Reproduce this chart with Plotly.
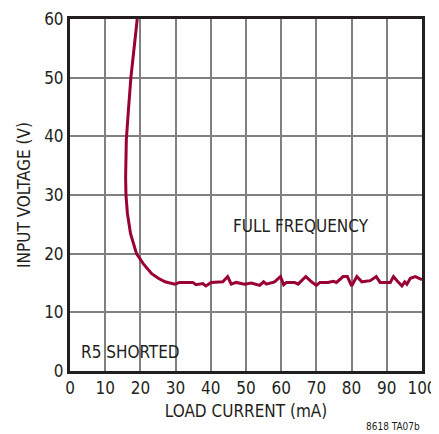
import plotly.graph_objects as go

# load current (mA) and input voltage (V)
load_current = [19.1, 18.2, 17.3, 16.6, 16.0, 15.8, 15.9, 16.3, 17.2, 18.9, 20.8, 23.2, 25.1,
                27.0, 29.8, 31.1, 34.9, 35.8, 37.7, 38.6, 40.1, 43.4, 44.8, 45.8,
                47.2, 49.6, 51.5, 53.9, 55.0, 55.8, 58.1, 59.8, 60.7, 61.5, 63.8, 64.8,
                67.0, 68.6, 70.0, 71.0, 73.3, 74.8, 75.7, 77.6, 78.8, 80.0, 81.5, 82.9,
                85.3, 87.0, 88.1, 91.0, 91.9, 92.9, 94.3, 95.1, 95.7, 96.7, 98.1, 99.5, 100.0]
input_voltage = [60.0, 54.7, 50.0, 44.5, 39.4, 33.0, 30.0, 26.9, 23.4, 20.0, 18.3, 16.6, 15.8,
                 15.2, 14.8, 15.1, 15.1, 14.7, 14.9, 14.5, 15.1, 15.2, 16.1, 14.8,
                 15.1, 14.8, 15.0, 14.6, 15.2, 14.8, 15.2, 16.1, 14.7, 15.1, 15.1, 14.8,
                 16.1, 15.2, 14.6, 15.1, 15.1, 15.3, 15.1, 16.1, 16.1, 14.5, 16.1, 15.2,
                 15.4, 16.1, 15.1, 15.1, 16.1, 15.4, 14.5, 15.2, 14.8, 15.8, 16.1, 15.7, 15.6]

FONT = "DejaVu Sans Condensed, Liberation Sans Narrow, sans-serif"
INK = "#231f20"

fig = go.Figure()
fig.add_trace(go.Scatter(x=load_current, y=input_voltage, mode="lines",
                         line=dict(color="#990033", width=3), showlegend=False))

axis_style = dict(showgrid=True, gridcolor="#808080", gridwidth=1.5, zeroline=False,
                  showline=True, linecolor=INK, linewidth=3, mirror=True, automargin=False,
                  ticks="", tickfont=dict(size=17, color=INK, family=FONT))
fig.update_xaxes(range=[0, 100], dtick=10, **axis_style,
                 title=dict(text="LOAD CURRENT (mA)", font=dict(size=17, color=INK, family=FONT),
                            standoff=8))
fig.update_yaxes(range=[0, 60], dtick=10, **axis_style,
                 title=dict(text="INPUT VOLTAGE (V)", font=dict(size=17, color=INK, family=FONT),
                            standoff=10))

fig.add_annotation(x=45.7, y=24.7, text="FULL FREQUENCY", showarrow=False, xanchor="left",
                   font=dict(size=17, color=INK, family=FONT))
fig.add_annotation(x=2.6, y=3.2, text="R5 SHORTED", showarrow=False, xanchor="left",
                   font=dict(size=17, color=INK, family=FONT))
fig.add_annotation(x=1, y=0, xref="paper", yref="paper", yshift=-55,
                   text="8618 TA07b", showarrow=False, xanchor="right", yanchor="middle",
                   font=dict(size=10, color=INK, family=FONT))

# page body has an 8px margin, so the figure is shrunk and the margins shifted to match
fig.update_layout(width=431, height=426, margin=dict(l=62, r=17, t=11, b=63, autoexpand=False),
                  plot_bgcolor="white", paper_bgcolor="white")
fig.write_html("out.html")
